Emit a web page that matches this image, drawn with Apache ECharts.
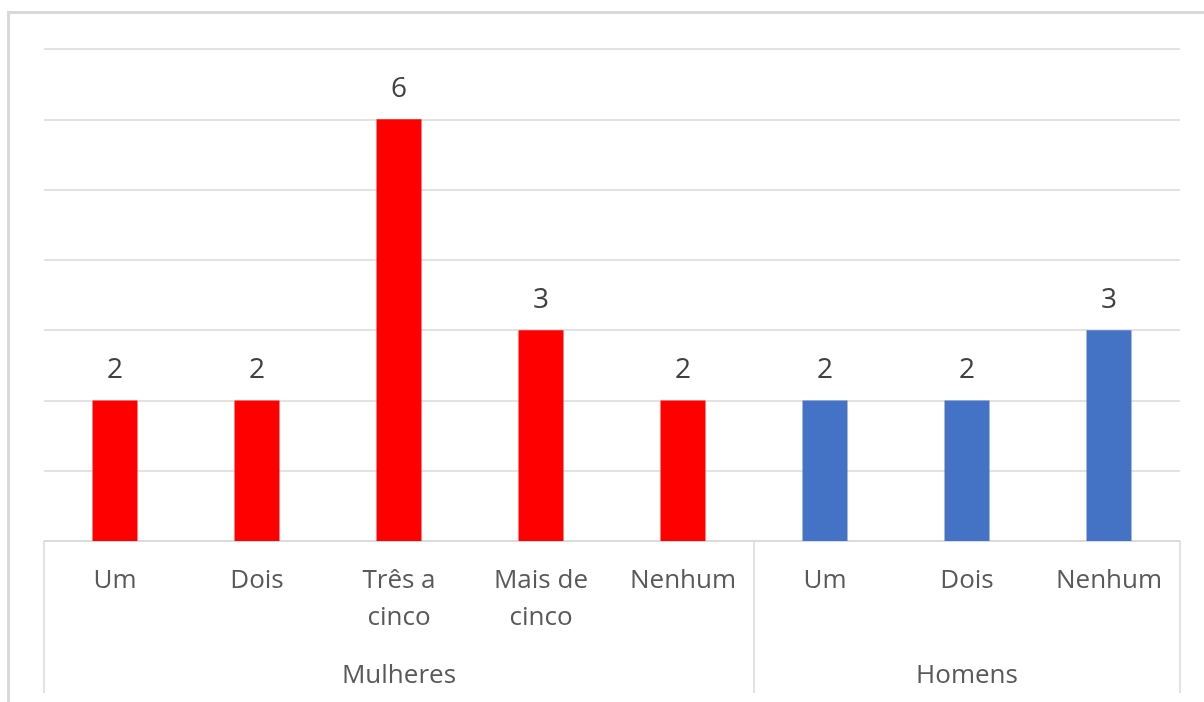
<!DOCTYPE html>
<html>
<head>
<meta charset="utf-8">
<script src="https://cdn.jsdelivr.net/npm/echarts@6/dist/echarts.min.js"></script>
<style>
  html, body { margin: 0; padding: 0; background: #fff; }
  #chart { width: 1204px; height: 702px; }
</style>
</head>
<body>
<div id="chart"></div>
<script>
// Categories along the x axis, grouped by sex
const categories = ['Um', 'Dois', 'Três a\ncinco', 'Mais de\ncinco', 'Nenhum', 'Um', 'Dois', 'Nenhum'];
const values = [2, 2, 6, 3, 2, 2, 2, 3];
const groupNames = ['Mulheres', 'Homens'];
const groupSizes = [5, 3];
const groupColors = ['#ff0000', '#4472c4'];
const yTicks = [0, 1, 2, 3, 4, 5, 6, 7];

// Build per-category group index and the group label row
const groupOf = [];
const groupLabelRow = categories.map(() => '');
const groupStarts = [];
let start = 0;
groupSizes.forEach((size, g) => {
  groupStarts.push(start);
  for (let i = 0; i < size; i++) groupOf.push(g);
  groupLabelRow[start + Math.floor(size / 2)] = groupNames[g];
  start += size;
});

const barData = values.map((v, i) => ({
  value: v,
  itemStyle: { color: groupColors[groupOf[i]] }
}));

const font = '"Open Sans", "Noto Sans", sans-serif';
const chart = echarts.init(document.getElementById('chart'), null, { renderer: 'canvas' });

chart.setOption({
  animation: false,
  backgroundColor: '#ffffff',
  graphic: [{
    type: 'rect',
    shape: { x: 8.5, y: 12.5, width: 1400, height: 900 },
    style: { fill: 'none', stroke: '#d9d9d9', lineWidth: 3 },
    silent: true,
    z: -1
  }],
  grid: { left: 44, right: 24, top: 49, bottom: 161 },
  xAxis: [{
    type: 'category',
    data: categories,
    position: 'bottom',
    axisLine: { show: true, lineStyle: { color: '#d9d9d9', width: 1.5 } },
    axisTick: {
      show: true,
      length: 152,
      interval: (index) => groupStarts.includes(index),
      lineStyle: { color: '#d9d9d9', width: 1.5 }
    },
    axisLabel: {
      interval: 0,
      margin: 21,
      color: '#595959',
      fontFamily: font,
      fontSize: 26,
      lineHeight: 37
    }
  }, {
    type: 'category',
    data: groupLabelRow,
    position: 'bottom',
    axisLine: { show: false },
    axisTick: { show: false },
    axisLabel: {
      interval: 0,
      margin: 122,
      color: '#595959',
      fontFamily: font,
      fontSize: 26
    }
  }],
  yAxis: {
    type: 'value',
    min: yTicks[0],
    max: yTicks[yTicks.length - 1],
    interval: 1,
    axisLabel: { show: false },
    axisLine: { show: false },
    axisTick: { show: false },
    splitLine: { lineStyle: { color: '#d9d9d9', width: 1.5 } }
  },
  series: [{
    type: 'bar',
    xAxisIndex: 0,
    data: barData,
    barWidth: 45,
    label: {
      show: true,
      position: 'top',
      distance: 16,
      color: '#404040',
      fontFamily: font,
      fontSize: 28
    }
  }]
});
</script>
</body>
</html>
